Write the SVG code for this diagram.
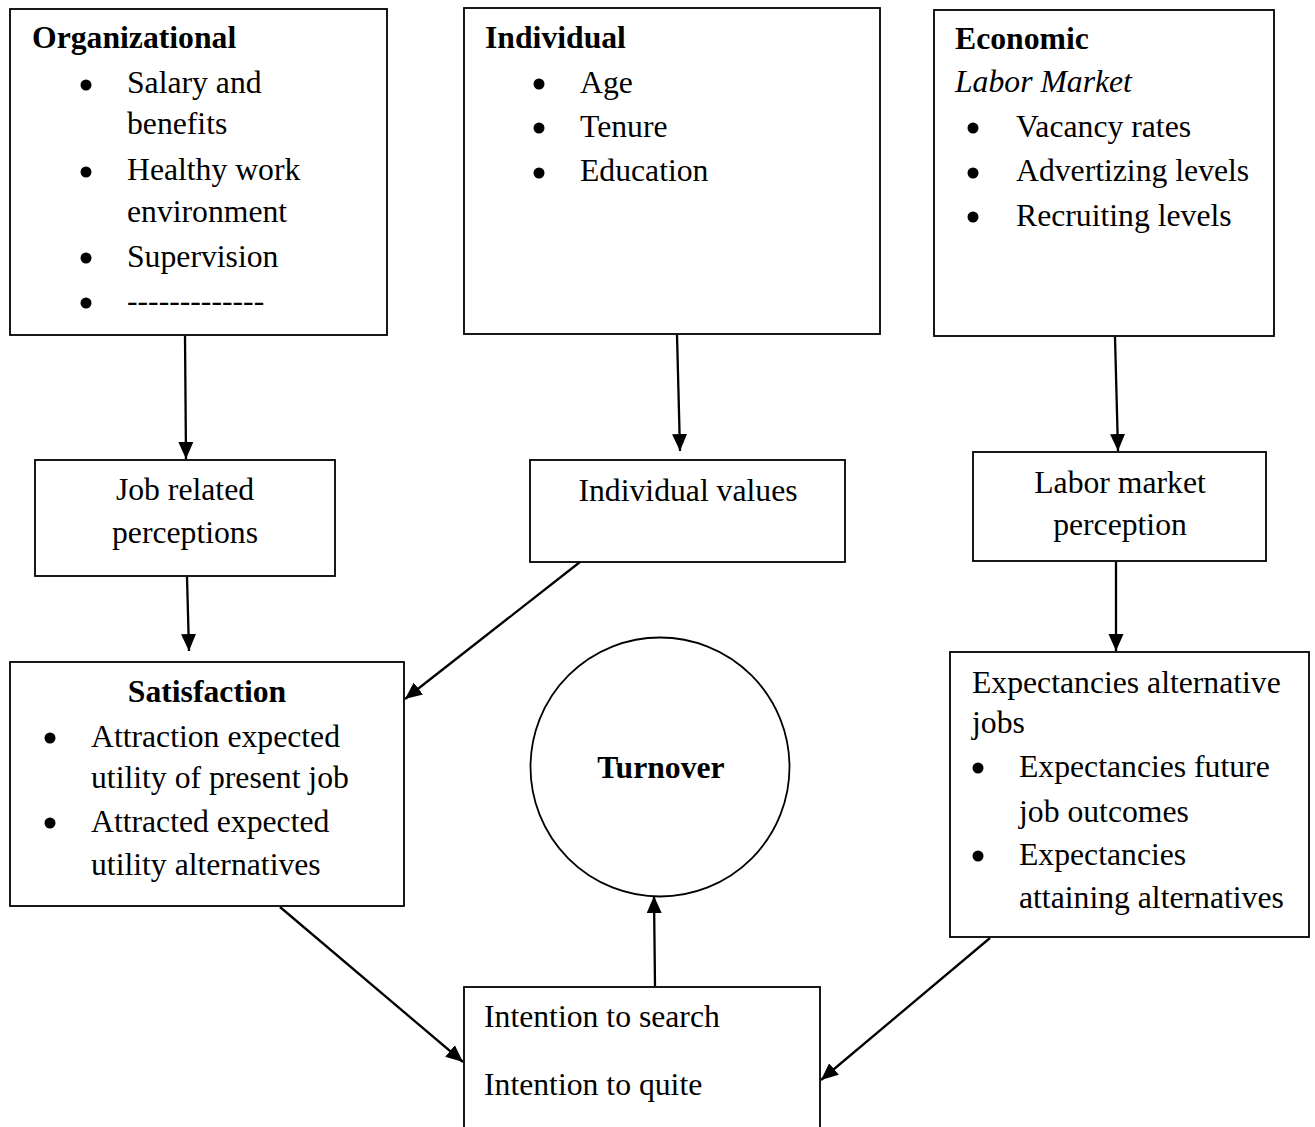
<svg xmlns="http://www.w3.org/2000/svg" width="1315" height="1127" viewBox="0 0 1315 1127">
<style>
text{font-family:"Liberation Serif","Times New Roman",serif;font-size:31.7px;fill:#000}
.b{font-weight:bold}
.i{font-style:italic}
.c{text-anchor:middle}
.box{fill:#fff;stroke:#000;stroke-width:1.8}
.blt{fill:#000}
.con line{stroke:#000;stroke-width:2.3;marker-end:url(#ah)}
</style>
<defs>
<marker id="ah" markerUnits="userSpaceOnUse" markerWidth="19" markerHeight="17" refX="17" refY="8" orient="auto">
<path d="M0,0.5 L17,8 L0,15.5 z" fill="#000"/>
</marker>
</defs>
<rect width="1315" height="1127" fill="#fff"/>

<g id="organizational">
<rect class="box" x="10" y="9" width="377" height="326"/>
<text class="b" x="32" y="48">Organizational</text>
<circle class="blt" cx="86" cy="85" r="5.5"/>
<text x="127" y="93">Salary and</text>
<text x="127" y="134">benefits</text>
<circle class="blt" cx="86" cy="172" r="5.5"/>
<text x="127" y="180">Healthy work</text>
<text x="127" y="222">environment</text>
<circle class="blt" cx="86" cy="258" r="5.5"/>
<text x="127" y="267">Supervision</text>
<circle class="blt" cx="86" cy="303" r="5.5"/>
<text x="127" y="311">-------------</text>
</g>

<g id="individual">
<rect class="box" x="464" y="8" width="416" height="326"/>
<text class="b" x="485" y="48">Individual</text>
<circle class="blt" cx="539" cy="84" r="5.5"/>
<text x="580" y="93">Age</text>
<circle class="blt" cx="539" cy="128" r="5.5"/>
<text x="580" y="137">Tenure</text>
<circle class="blt" cx="539" cy="173" r="5.5"/>
<text x="580" y="181">Education</text>
</g>

<g id="economic">
<rect class="box" x="934" y="10" width="340" height="326"/>
<text class="b" x="955" y="49">Economic</text>
<text class="i" x="955" y="92">Labor Market</text>
<circle class="blt" cx="973" cy="128" r="5.5"/>
<text x="1016" y="137">Vacancy rates</text>
<circle class="blt" cx="973" cy="173" r="5.5"/>
<text x="1016" y="181">Advertizing levels</text>
<circle class="blt" cx="973" cy="217" r="5.5"/>
<text x="1016" y="226">Recruiting levels</text>
</g>

<g id="job-related">
<rect class="box" x="35" y="460" width="300" height="116"/>
<text class="c" x="185" y="500">Job related</text>
<text class="c" x="185" y="543">perceptions</text>
</g>

<g id="individual-values">
<rect class="box" x="530" y="460" width="315" height="102"/>
<text class="c" x="688" y="501">Individual values</text>
</g>

<g id="labor-perception">
<rect class="box" x="973" y="452" width="293" height="109"/>
<text class="c" x="1120" y="493">Labor market</text>
<text class="c" x="1120" y="535">perception</text>
</g>

<g id="satisfaction">
<rect class="box" x="10" y="662" width="394" height="244"/>
<text class="b c" x="207" y="702">Satisfaction</text>
<circle class="blt" cx="50" cy="738" r="5.5"/>
<text x="91" y="747">Attraction expected</text>
<text x="91" y="788">utility of present job</text>
<circle class="blt" cx="50" cy="823" r="5.5"/>
<text x="91" y="832">Attracted expected</text>
<text x="91" y="875">utility alternatives</text>
</g>

<g id="turnover">
<circle cx="660" cy="767" r="129.5" fill="#fff" stroke="#000" stroke-width="1.8"/>
<text class="b c" x="661" y="778">Turnover</text>
</g>

<g id="expectancies">
<rect class="box" x="950" y="652" width="359" height="285"/>
<text x="972" y="693">Expectancies alternative</text>
<text x="972" y="733">jobs</text>
<circle class="blt" cx="978" cy="768" r="5.5"/>
<text x="1019" y="777">Expectancies future</text>
<text x="1019" y="822">job outcomes</text>
<circle class="blt" cx="978" cy="856" r="5.5"/>
<text x="1019" y="865">Expectancies</text>
<text x="1019" y="908">attaining alternatives</text>
</g>

<g id="intention">
<rect class="box" x="464" y="987" width="356" height="160"/>
<text x="484" y="1027">Intention to search</text>
<text x="484" y="1095">Intention to quite</text>
</g>

<g id="connectors" class="con">
<line x1="185" y1="336" x2="186" y2="459"/>
<line x1="677" y1="335" x2="680" y2="451"/>
<line x1="1115" y1="337" x2="1118" y2="451"/>
<line x1="187" y1="577" x2="189" y2="651"/>
<line x1="580" y1="562" x2="405" y2="699"/>
<line x1="1116" y1="562" x2="1116" y2="651"/>
<line x1="280" y1="907" x2="463" y2="1062"/>
<line x1="990" y1="938" x2="821" y2="1080"/>
<line x1="655" y1="986" x2="654" y2="896"/>
</g>
</svg>
